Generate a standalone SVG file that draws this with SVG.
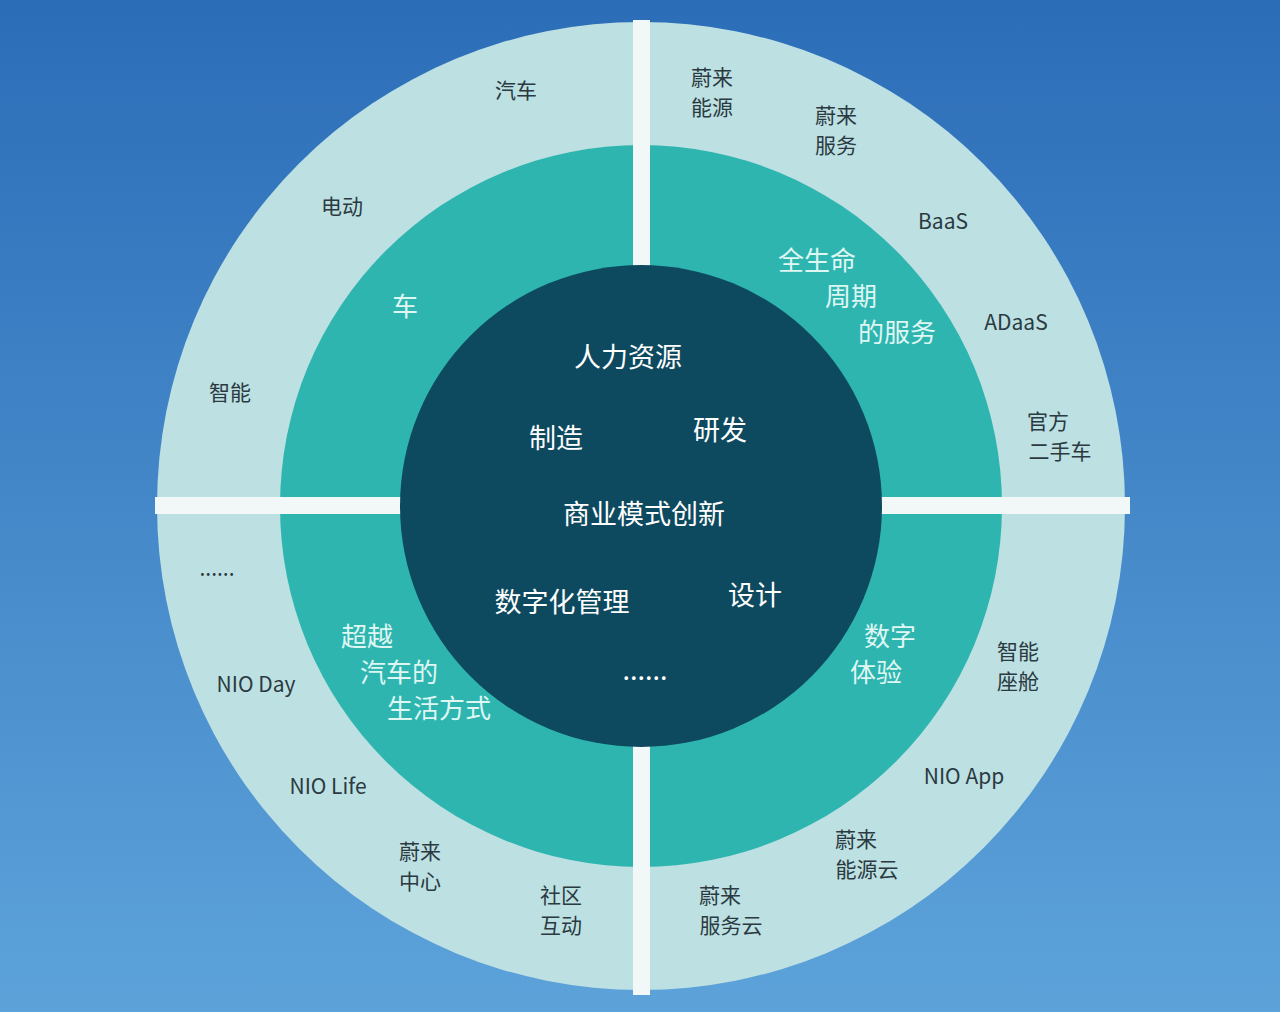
<svg xmlns="http://www.w3.org/2000/svg" width="1280" height="1012" viewBox="0 0 1280 1012">
<defs>
<linearGradient id="bg" x1="0" y1="0" x2="0" y2="1">
<stop offset="0" stop-color="#2c6db8"/><stop offset="1" stop-color="#5da3da"/>
</linearGradient>
<style>
.o{font-family:"Noto Sans CJK SC","Noto Sans",sans-serif;font-size:21px;fill:#2a3a40;text-anchor:middle}
.m{font-family:"Noto Sans CJK SC","Noto Sans",sans-serif;font-size:26px;fill:#dff7f3;text-anchor:middle}
.c{font-family:"Noto Sans CJK SC","Noto Sans",sans-serif;font-size:27px;fill:#ffffff;text-anchor:middle}
</style>
</defs>
<rect width="1280" height="1012" fill="url(#bg)"/>
<g id="rings">
<circle cx="641" cy="506" r="484" fill="#bde0e3"/>
<circle cx="641" cy="506" r="361" fill="#2fb5b0"/>
<rect x="633" y="20" width="17" height="975" fill="#f2f8f8"/>
<rect x="155" y="497" width="975" height="17" fill="#f2f8f8"/>
<circle cx="641" cy="506" r="241" fill="#0e4a5f"/>
</g>
<g id="outer-labels">
<text class="o" x="516" y="98">汽车</text>
<text class="o" x="342" y="214">电动</text>
<text class="o" x="230" y="400">智能</text>
<text class="o" x="712" y="85">蔚来</text><text class="o" x="712" y="115">能源</text>
<text class="o" x="836" y="123">蔚来</text><text class="o" x="836" y="153">服务</text>
<text class="o" x="943" y="229">BaaS</text>
<text class="o" x="1016" y="330">ADaaS</text>
<text class="o" x="1048" y="429">官方</text><text class="o" x="1060" y="459">二手车</text>
<text class="o" x="217" y="576">......</text>
<text class="o" x="256" y="692">NIO Day</text>
<text class="o" x="328" y="794">NIO Life</text>
<text class="o" x="420" y="859">蔚来</text><text class="o" x="420" y="889">中心</text>
<text class="o" x="561" y="903">社区</text><text class="o" x="561" y="933">互动</text>
<text class="o" x="1018" y="659">智能</text><text class="o" x="1018" y="689">座舱</text>
<text class="o" x="964" y="784">NIO App</text>
<text class="o" x="856" y="847">蔚来</text><text class="o" x="867" y="877">能源云</text>
<text class="o" x="720" y="903">蔚来</text><text class="o" x="731" y="933">服务云</text>
</g>
<g id="middle-labels">
<text class="m" x="405" y="316">车</text>
<text class="m" x="817" y="270">全生命</text><text class="m" x="851" y="306">周期</text><text class="m" x="897" y="342">的服务</text>
<text class="m" x="367" y="646">超越</text><text class="m" x="399" y="682">汽车的</text><text class="m" x="439" y="718">生活方式</text>
<text class="m" x="890" y="646">数字</text><text class="m" x="876" y="682">体验</text>
</g>
<g id="center-labels">
<text class="c" x="628" y="367">人力资源</text>
<text class="c" x="556" y="448">制造</text>
<text class="c" x="720" y="440">研发</text>
<text class="c" x="644" y="524">商业模式创新</text>
<text class="c" x="562" y="612">数字化管理</text>
<text class="c" x="755" y="605">设计</text>
<text class="c" x="645" y="680">......</text>
</g>
</svg>
